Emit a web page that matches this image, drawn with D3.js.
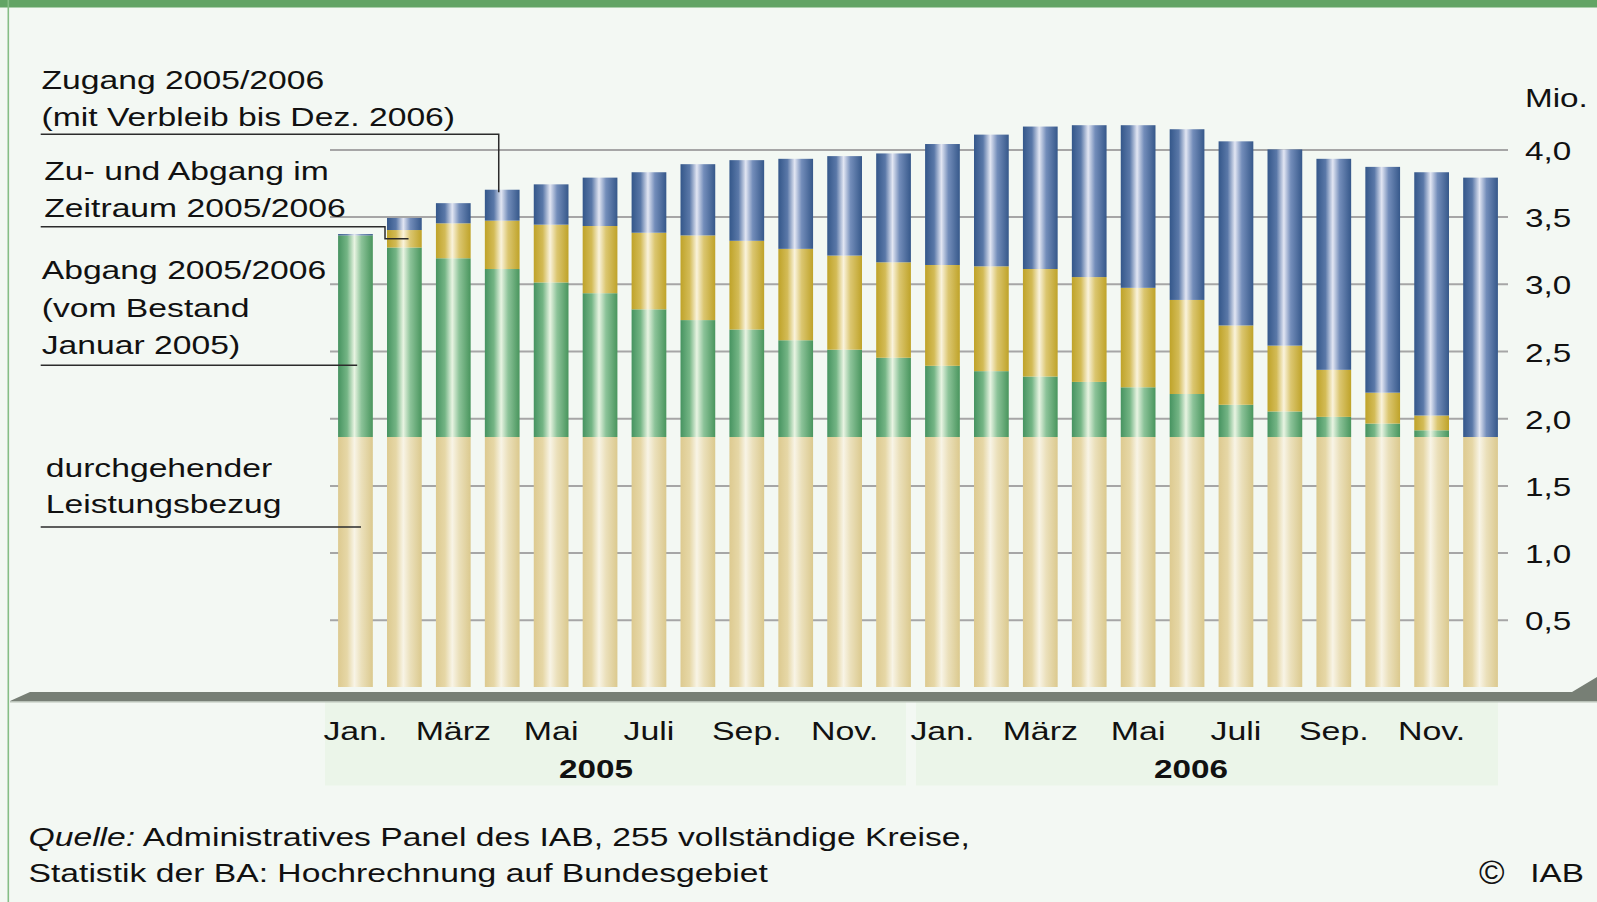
<!DOCTYPE html>
<html>
<head>
<meta charset="utf-8">
<script src="https://cdn.jsdelivr.net/npm/d3@7/dist/d3.min.js"></script>
<style>
  html, body { margin: 0; padding: 0; background: #f3f8f3; }
  svg { display: block; }
  text { font-family: "Liberation Sans", Arial, sans-serif; fill: #111; }
</style>
</head>
<body>
<svg id="chart" width="1597" height="902"></svg>
<script>
// ---------- DATA ----------
const categories = ["2005-01","2005-02","2005-03","2005-04","2005-05","2005-06","2005-07","2005-08","2005-09","2005-10","2005-11","2005-12",
                    "2006-01","2006-02","2006-03","2006-04","2006-05","2006-06","2006-07","2006-08","2006-09","2006-10","2006-11","2006-12"];
const monthLabels = ["Jan.","","März","","Mai","","Juli","","Sep.","","Nov.","",
                     "Jan.","","März","","Mai","","Juli","","Sep.","","Nov.",""];
const years = ["2005","2006"];
// Mio. persons
const durchgehend = [1.86,1.86,1.86,1.86,1.86,1.86,1.86,1.86,1.86,1.86,1.86,1.86,
                     1.86,1.86,1.86,1.86,1.86,1.86,1.86,1.86,1.86,1.86,1.86,1.86];
const abgang      = [1.50,1.41,1.33,1.25,1.15,1.07,0.95,0.87,0.80,0.72,0.65,0.59,
                     0.53,0.49,0.45,0.41,0.37,0.32,0.24,0.19,0.15,0.10,0.05,0.00];
const zuAbgang    = [0.00,0.13,0.26,0.36,0.43,0.50,0.57,0.63,0.66,0.68,0.70,0.71,
                     0.75,0.78,0.80,0.78,0.74,0.70,0.59,0.49,0.35,0.23,0.11,0.00];
const zugang      = [0.01,0.09,0.15,0.23,0.30,0.36,0.45,0.53,0.60,0.67,0.74,0.81,
                     0.90,0.98,1.06,1.13,1.21,1.27,1.37,1.46,1.57,1.68,1.81,1.93];
const yTicks = [0.5,1.0,1.5,2.0,2.5,3.0,3.5,4.0];
const yTickLabels = ["0,5","1,0","1,5","2,0","2,5","3,0","3,5","4,0"];
const seriesKeys = ["base","green","yellow","blue"];

// ---------- SETUP ----------
const SX = 1.295; // horizontal stretch of the original typography
const svg = d3.select("#chart");
const W = 1597, H = 902;

const rows = categories.map((c, i) => ({
  cat: c, base: durchgehend[i], green: abgang[i], yellow: zuAbgang[i], blue: zugang[i]
}));

const x = d3.scaleBand().domain(categories).range([331, 1505]).paddingInner(0.29).paddingOuter(0.145);
const y = d3.scaleLinear().domain([0, 4]).range([687, 149.4]);

// background
svg.append("rect").attr("x", 0).attr("y", 0).attr("width", W).attr("height", H).attr("fill", "#f3f8f3");
svg.append("rect").attr("x", 0).attr("y", 0).attr("width", W).attr("height", 7.5).attr("fill", "#62a465");
svg.append("rect").attr("x", 7.5).attr("y", 0).attr("width", 1.6).attr("height", H).attr("fill", "#86bd86");

// gradients
const defs = svg.append("defs");
const grads = {
  base:   ["#ddca90", "#e6d7a6", "#f8f4e6", "#ebe0bb", "#dbc98e"],
  green:  ["#469360", "#74b585", "#e8f4e2", "#8cc399", "#49955d"],
  yellow: ["#bfa329", "#d3bb56", "#faf3dc", "#dbc670", "#bfa329"],
  blue:   ["#34578a", "#5a78a8", "#e2e6f3", "#738dba", "#36588a"]
};
Object.entries(grads).forEach(([k, cols]) => {
  const g = defs.append("linearGradient").attr("id", "g-" + k).attr("x1", "0").attr("x2", "1").attr("y1", "0").attr("y2", "0");
  [0, 0.26, 0.47, 0.67, 1].forEach((o, i) => g.append("stop").attr("offset", o).attr("stop-color", cols[i]));
});

// gridlines (via d3 axis)
const grid = svg.append("g").attr("transform", "translate(1508,0)")
  .call(d3.axisLeft(y).tickValues(yTicks).tickSize(1508 - 330).tickFormat(""));
grid.select(".domain").remove();
grid.selectAll(".tick line").attr("stroke", "#a6a6a6").attr("stroke-width", 2);

// label-area panels
svg.append("rect").attr("x", 325).attr("y", 701.5).attr("width", 581).attr("height", 84).attr("fill", "#ebf5e9");
svg.append("rect").attr("x", 916).attr("y", 701.5).attr("width", 582).attr("height", 84).attr("fill", "#ebf5e9");

// axis floor band
svg.append("polygon")
  .attr("points", "10,701 30,692 1572,692 1597,677 1597,701")
  .attr("fill", "#777f75");
svg.append("rect").attr("x", 10).attr("y", 701).attr("width", 1587).attr("height", 1.5).attr("fill", "#b9c2b8");

// stacked bars
const stacked = d3.stack().keys(seriesKeys)(rows);
svg.append("g").selectAll("g").data(stacked).join("g")
  .attr("fill", d => "url(#g-" + d.key + ")")
  .selectAll("rect").data(d => d.filter(p => p[1] - p[0] > 0)).join("rect")
  .attr("x", d => x(d.data.cat))
  .attr("width", x.bandwidth())
  .attr("y", d => y(d[1]))
  .attr("height", d => y(d[0]) - y(d[1]));

// text helper
function txt(px, py, str, opts = {}) {
  const t = svg.append("text")
    .attr("transform", `translate(${px},${py}) scale(${opts.sx || SX},1)`)
    .attr("font-size", opts.size || 26)
    .attr("text-anchor", opts.anchor || "start")
    .attr("font-weight", opts.weight || "normal");
  if (Array.isArray(str)) {
    str.forEach(s => t.append("tspan").attr("font-style", s.italic ? "italic" : "normal").text(s.t));
  } else t.text(str);
  return t;
}

// y tick labels
yTicks.forEach((v, i) => txt(1525, y(v) + 10.5, yTickLabels[i], { sx: 1.28 }));
txt(1525, 107.3, "Mio.", { sx: 1.28 });

// month labels
categories.forEach((c, i) => {
  if (monthLabels[i]) txt(x(c) + x.bandwidth() / 2, 740, monthLabels[i], { anchor: "middle", size: 26.5, sx: 1.28 });
});
txt(596, 778, years[0], { anchor: "middle", weight: "bold", sx: 1.28 });
txt(1191, 778, years[1], { anchor: "middle", weight: "bold", sx: 1.28 });

// legend annotations
txt(41.5, 89.3, "Zugang 2005/2006");
txt(41.5, 126, "(mit Verbleib bis Dez. 2006)");
txt(44.3, 180, "Zu- und Abgang im");
txt(44.3, 216.7, "Zeitraum 2005/2006");
txt(41.7, 279.3, "Abgang 2005/2006");
txt(41.7, 316.5, "(vom Bestand");
txt(41.7, 354.3, "Januar 2005)");
txt(45.7, 477.3, "durchgehender");
txt(45.7, 513.3, "Leistungsbezug");

// leader lines
const line = d3.line();
const lead = pts => svg.append("path").attr("d", line(pts)).attr("fill", "none").attr("stroke", "#2b2b2b").attr("stroke-width", 1.5);
const c4 = x(categories[3]) + x.bandwidth() * 0.4;
lead([[40.7, 134.3], [c4, 134.3], [c4, y(durchgehend[3] + abgang[3] + zuAbgang[3] + zugang[3]) + 2.5]]);
const x2l = x(categories[1]);
const y2 = y(durchgehend[1] + abgang[1] + zuAbgang[1] / 2);
lead([[40.7, 226.7], [x2l - 2, 226.7], [x2l - 2, y2], [x2l + x.bandwidth() * 0.62, y2]]);
lead([[40.7, 365.3], [x(categories[0]) + x.bandwidth() * 0.55, 365.3]]);
lead([[40.7, 527], [x(categories[0]) + x.bandwidth() * 0.66, 527]]);

// footer
txt(28.5, 846, [{ t: "Quelle:", italic: true }, { t: " Administratives Panel des IAB, 255 vollständige Kreise," }]);
txt(28.5, 882, "Statistik der BA: Hochrechnung auf Bundesgebiet");
txt(1479, 884, "©", { size: 33, sx: 1.05 });
txt(1584, 882, "IAB", { anchor: "end", sx: 1.28 });
</script>
</body>
</html>
